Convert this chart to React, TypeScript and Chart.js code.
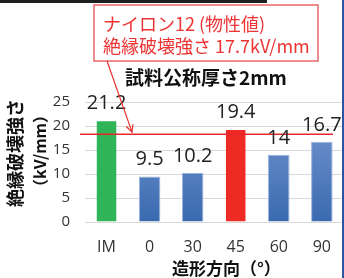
import React, { useEffect, useRef } from "react";
import { Chart, registerables } from "chart.js";
Chart.register(...registerables);

const categories = ["IM", "0", "30", "45", "60", "90"];
const strengthValues = [21.2, 9.5, 10.2, 19.4, 14, 16.7];
const barKinds = ["green", "blue", "blue", "red", "blue", "blue"];
const yMin = 0;
const yMax = 25;
const yStep = 5;
const referenceLineValue = 18.3;
const annotationLines = ["ナイロン12 (物性値)", "絶縁破壊強さ 17.7kV/mm"];
const subtitleText = "試料公称厚さ2mm";
const yTitleLines = ["絶縁破壊強さ", "（kV/mm）"];
const xTitleText = "造形方向（°）";

const NUM_FONT = '"Open Sans", "DejaVu Sans", sans-serif';
const JP_FONT = '"Noto Sans CJK JP", sans-serif';

const overlayPlugin = {
  id: "overlay",
  afterDatasetsDraw(chart: any) {
    const ctx = chart.ctx as CanvasRenderingContext2D;
    const yScale = chart.scales.y;
    const meta = chart.getDatasetMeta(0);
    ctx.save();

    // reference line
    const ly = yScale.getPixelForValue(referenceLineValue);
    ctx.strokeStyle = "#e8262a";
    ctx.lineWidth = 1.5;
    ctx.beginPath();
    ctx.moveTo(80, ly);
    ctx.lineTo(333, ly);
    ctx.stroke();

    // data labels
    ctx.fillStyle = "#222222";
    ctx.font = `20px ${NUM_FONT}`;
    ctx.textAlign = "center";
    ctx.textBaseline = "alphabetic";
    meta.data.forEach((bar: any, i: number) => {
      ctx.fillText(String(strengthValues[i]), bar.x, bar.y - 11);
    });

    // annotation box
    ctx.fillStyle = "#ffffff";
    ctx.fillRect(94, 5, 224, 56);
    ctx.strokeStyle = "#e86a6a";
    ctx.lineWidth = 1.5;
    ctx.strokeRect(94, 5, 224, 56);
    ctx.fillStyle = "#ec3434";
    ctx.font = `18px ${JP_FONT}`;
    ctx.textAlign = "left";
    ctx.textBaseline = "middle";
    ctx.fillText(annotationLines[0], 103, 24);
    ctx.fillText(annotationLines[1], 103, 46);

    // arrow
    const ax0 = 107, ay0 = 61, ax1 = 132, ay1 = ly - 2;
    ctx.strokeStyle = "#e83030";
    ctx.lineWidth = 1.2;
    ctx.beginPath();
    ctx.moveTo(ax0, ay0);
    ctx.lineTo(ax1, ay1);
    ctx.stroke();
    const ang = Math.atan2(ay1 - ay0, ax1 - ax0);
    const hl = 8;
    ctx.beginPath();
    ctx.moveTo(ax1 - hl * Math.cos(ang - 0.45), ay1 - hl * Math.sin(ang - 0.45));
    ctx.lineTo(ax1, ay1);
    ctx.lineTo(ax1 - hl * Math.cos(ang + 0.45), ay1 - hl * Math.sin(ang + 0.45));
    ctx.stroke();

    // subtitle
    ctx.fillStyle = "#111111";
    ctx.font = `bold 19px ${JP_FONT}`;
    ctx.textAlign = "left";
    ctx.textBaseline = "middle";
    ctx.fillText(subtitleText, 125, 78);

    // y title
    ctx.save();
    ctx.translate(15, 153);
    ctx.rotate(-Math.PI / 2);
    ctx.textAlign = "center";
    ctx.textBaseline = "middle";
    ctx.font = `bold 18px ${JP_FONT}`;
    ctx.fillText(yTitleLines[0], 0, 0);
    ctx.font = `bold 16px ${JP_FONT}`;
    ctx.fillText(yTitleLines[1], 2, 25);
    ctx.restore();

    // x title
    ctx.fillStyle = "#111111";
    ctx.font = `bold 17px ${JP_FONT}`;
    ctx.textAlign = "left";
    ctx.textBaseline = "middle";
    ctx.fillText(xTitleText, 172, 269);

    // slide fragments
    ctx.fillStyle = "#1e1e1e";
    ctx.fillRect(0, 0, 267, 3);
    ctx.fillStyle = "#2f55a6";
    ctx.fillRect(342, 0, 2, 278);

    ctx.restore();
  },
};

export default function App() {
  const ref = useRef<HTMLCanvasElement | null>(null);
  useEffect(() => {
    if (!ref.current) return;
    const colorFor = (c: any) => {
      const kind = barKinds[c.dataIndex];
      if (kind === "green") return "#2fb457";
      if (kind === "red") return "#ee2a24";
      const area = c.chart.chartArea;
      if (!area) return "#5080c0";
      const g = c.chart.ctx.createLinearGradient(0, area.top, 0, area.bottom);
      g.addColorStop(0, "#7a9bd2");
      g.addColorStop(1, "#3a6ab0");
      return g;
    };
    const chart = new Chart(ref.current, {
      type: "bar",
      data: {
        labels: categories,
        datasets: [
          {
            data: strengthValues,
            backgroundColor: colorFor,
            borderColor: (c: any) =>
              barKinds[c.dataIndex] === "blue" ? "#9ab2dc" : "rgba(0,0,0,0)",
            borderWidth: 1,
            barPercentage: 0.5,
            categoryPercentage: 1,
          },
        ],
      },
      options: {
        animation: false,
        responsive: false,
        maintainAspectRatio: false,
        layout: { padding: { top: 102, left: 0, right: 0, bottom: 0 } },
        plugins: { legend: { display: false }, tooltip: { enabled: false } },
        scales: {
          x: {
            grid: { display: false, drawTicks: false },
            border: { display: false },
            ticks: {
              color: "#333333",
              font: { family: NUM_FONT, size: 16 },
              padding: 16,
            },
            afterFit: (s: any) => {
              s.height = 56;
            },
          },
          y: {
            min: yMin,
            max: yMax,
            grid: { color: "#d9d9d9", drawTicks: false, lineWidth: 1 },
            border: { display: false },
            ticks: {
              stepSize: yStep,
              color: "#333333",
              font: { family: NUM_FONT, size: 15 },
              padding: 15,
            },
            afterFit: (s: any) => {
              s.width = 85;
            },
          },
        },
      },
      plugins: [overlayPlugin],
    });
    return () => chart.destroy();
  }, []);
  return (
    <div
      style={{
        position: "fixed",
        left: 0,
        top: 0,
        width: 344,
        height: 278,
        overflow: "hidden",
        background: "#ffffff",
      }}
    >
      <canvas ref={ref} width={347} height={278} style={{ width: 347, height: 278, display: "block" }} />
    </div>
  );
}
